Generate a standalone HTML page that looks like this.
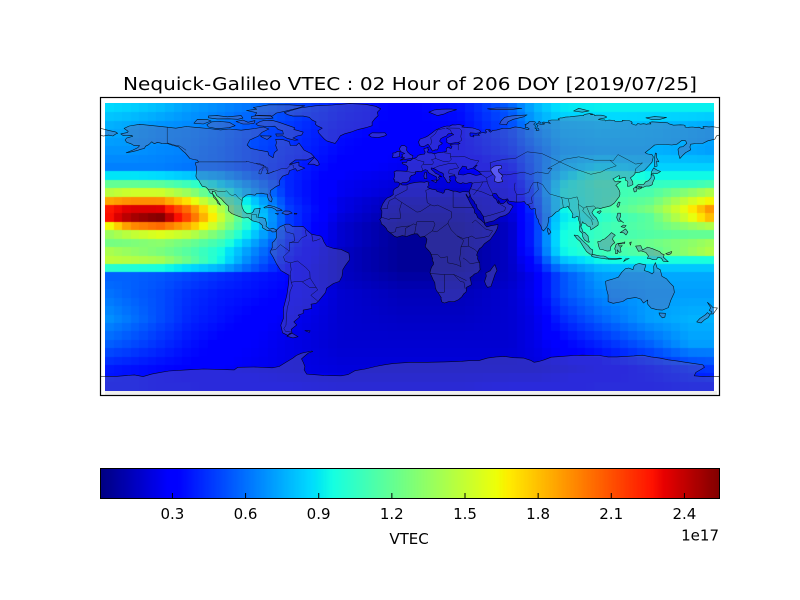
<!DOCTYPE html>
<html><head><meta charset="utf-8">
<style>
html,body{margin:0;padding:0;background:#fff;width:800px;height:600px;overflow:hidden}
#wrap{position:relative;width:800px;height:600px;background:#fff}
canvas{position:absolute}
svg{position:absolute;left:0;top:0}
</style></head><body>
<div id="wrap">
<canvas id="map" width="609" height="288" style="left:105px;top:103px"></canvas>
<canvas id="cb" width="620" height="31" style="left:100px;top:468px"></canvas>
<svg id="s" width="800" height="600" xmlns="http://www.w3.org/2000/svg" font-family="'DejaVu Sans','Liberation Sans',sans-serif">
<defs>
<clipPath id="cd"><rect x="105" y="103" width="609" height="288"/></clipPath>
<clipPath id="cf"><rect x="100" y="97" width="620" height="299"/></clipPath>
</defs>
<rect x="105" y="391" width="612" height="4.5" fill="#efefef"/>
<g id="land" clip-path="url(#cd)" fill="rgb(105,105,165)" fill-opacity="0.4" fill-rule="evenodd"></g>
<g id="coast" clip-path="url(#cf)" fill="none" stroke="#000" stroke-width="0.6" stroke-opacity="0.85" stroke-linejoin="round"></g>
<rect x="100.5" y="97.5" width="619" height="298" fill="none" stroke="#000" stroke-width="1.2"/>
<text x="123" y="90" font-size="18" fill="#000" textLength="574" lengthAdjust="spacingAndGlyphs">Nequick-Galileo VTEC : 02 Hour of 206 DOY [2019/07/25]</text>
<rect x="100.5" y="468.5" width="619" height="30" fill="none" stroke="#000" stroke-width="1"/>
<g id="ticks" stroke="#000" stroke-width="1"></g>
<g font-size="15" fill="#000" text-anchor="middle">
<text x="172.4" y="519">0.3</text>
<text x="245.5" y="519">0.6</text>
<text x="318.6" y="519">0.9</text>
<text x="391.8" y="519">1.2</text>
<text x="465" y="519">1.5</text>
<text x="538.1" y="519">1.8</text>
<text x="611.2" y="519">2.1</text>
<text x="684.4" y="519">2.4</text>
<text x="409" y="544">VTEC</text>
<text x="719" y="540.5" text-anchor="end">1e17</text>
</g>
</svg>
</div>
<script>
(function(){
function seg(p,t){for(var k=0;k<p.length-1;k++){if(t<=p[k+1][0]){var f=(t-p[k][0])/(p[k+1][0]-p[k][0]);return p[k][1]+(p[k+1][1]-p[k][1])*f;}}return p[p.length-1][1];}
var JR=[[0,0],[0.35,0],[0.66,1],[0.89,1],[1,0.5]],JG=[[0,0],[0.125,0],[0.375,1],[0.64,1],[0.91,0],[1,0]],JB=[[0,0.5],[0.11,1],[0.34,1],[0.65,0],[1,0]];
function jet(t){t=Math.max(0,Math.min(1,t));return 'rgb('+Math.round(255*seg(JR,t))+','+Math.round(255*seg(JG,t))+','+Math.round(255*seg(JB,t))+')';}
var XN=[105,130,160,190,220,250,290,340,400,460,510,535,560,600,650,690,714];
var RN=[0,2,5,7,8,9,10,11,12,13,14,15,16,17,18,19,20,22,25,28,31,33];
var T=[
[0.34,0.33,0.31,0.28,0.26,0.24,0.2,0.15,0.12,0.14,0.22,0.3,0.35,0.36,0.36,0.36,0.36],
[0.3,0.29,0.27,0.26,0.24,0.21,0.18,0.14,0.12,0.13,0.2,0.27,0.31,0.32,0.31,0.3,0.29],
[0.27,0.27,0.26,0.25,0.23,0.2,0.17,0.13,0.11,0.12,0.17,0.23,0.29,0.3,0.3,0.29,0.28],
[0.25,0.25,0.25,0.24,0.23,0.2,0.16,0.12,0.1,0.1,0.14,0.22,0.31,0.35,0.33,0.33,0.33],
[0.35,0.35,0.34,0.32,0.29,0.23,0.16,0.11,0.09,0.09,0.12,0.22,0.33,0.41,0.37,0.37,0.37],
[0.47,0.47,0.46,0.42,0.35,0.27,0.16,0.1,0.08,0.08,0.1,0.21,0.36,0.43,0.41,0.42,0.44],
[0.57,0.6,0.6,0.53,0.41,0.3,0.16,0.1,0.07,0.07,0.09,0.2,0.37,0.42,0.44,0.52,0.57],
[0.73,0.76,0.76,0.66,0.5,0.34,0.17,0.09,0.05,0.05,0.08,0.19,0.36,0.42,0.47,0.6,0.66],
[0.88,0.92,0.92,0.78,0.57,0.37,0.18,0.09,0.04,0.04,0.08,0.18,0.36,0.42,0.5,0.65,0.77],
[0.88,0.96,1.0,0.82,0.6,0.38,0.18,0.08,0.03,0.03,0.07,0.17,0.35,0.4,0.46,0.62,0.73],
[0.62,0.76,0.8,0.72,0.56,0.37,0.18,0.07,0.02,0.02,0.06,0.17,0.36,0.42,0.46,0.53,0.57],
[0.53,0.58,0.62,0.58,0.48,0.34,0.17,0.07,0.02,0.02,0.06,0.17,0.37,0.42,0.45,0.47,0.47],
[0.49,0.5,0.52,0.48,0.42,0.3,0.16,0.07,0.02,0.02,0.06,0.17,0.37,0.43,0.48,0.52,0.55],
[0.56,0.53,0.5,0.45,0.38,0.27,0.15,0.06,0.02,0.02,0.06,0.16,0.36,0.42,0.46,0.53,0.57],
[0.58,0.57,0.55,0.47,0.37,0.25,0.14,0.06,0.02,0.02,0.06,0.14,0.31,0.37,0.38,0.38,0.38],
[0.4,0.39,0.38,0.34,0.3,0.22,0.13,0.06,0.02,0.02,0.06,0.12,0.25,0.31,0.32,0.32,0.32],
[0.22,0.22,0.21,0.19,0.17,0.15,0.13,0.06,0.03,0.03,0.06,0.1,0.2,0.28,0.29,0.29,0.29],
[0.24,0.22,0.2,0.17,0.15,0.14,0.12,0.07,0.05,0.05,0.07,0.1,0.2,0.26,0.28,0.28,0.28],
[0.27,0.24,0.2,0.16,0.14,0.12,0.1,0.07,0.06,0.06,0.07,0.09,0.16,0.22,0.28,0.3,0.3],
[0.22,0.2,0.17,0.14,0.12,0.11,0.09,0.07,0.07,0.07,0.07,0.09,0.12,0.16,0.22,0.28,0.28],
[0.15,0.14,0.13,0.12,0.11,0.1,0.09,0.08,0.08,0.08,0.08,0.08,0.09,0.11,0.14,0.17,0.18],
[0.14,0.14,0.13,0.13,0.12,0.12,0.11,0.1,0.1,0.1,0.11,0.11,0.12,0.13,0.13,0.14,0.14]];
function rowI(row,x){var k=0;while(k<XN.length-2&&x>XN[k+1])k++;var f=(x-XN[k])/(XN[k+1]-XN[k]);f=Math.max(0,Math.min(1,f));return row[k]+(row[k+1]-row[k])*f;}
function val(x,r){var k=0;while(k<RN.length-2&&r>RN[k+1])k++;var f=(r-RN[k])/(RN[k+1]-RN[k]);f=Math.max(0,Math.min(1,f));var a=rowI(T[k],x),b=rowI(T[k+1],x);return a+(b-a)*f;}
var c=document.getElementById('map').getContext('2d');
var CW=609/71;
for(var i=0;i<71;i++){var xc=105+CW*(i+0.5);var x0=Math.round(CW*i),x1=Math.round(CW*(i+1));
 for(var r=0;r<34;r++){var y0=(r==0)?0:Math.round(104+8.42*r-103);var y1=(r==33)?288:Math.round(104+8.42*(r+1)-103);
  c.fillStyle=jet(val(xc,r));c.fillRect(x0,y0,x1-x0,y1-y0);}}
var cb=document.getElementById('cb').getContext('2d');
for(var p=0;p<620;p++){cb.fillStyle=jet((p+0.5)/620);cb.fillRect(p,0,1,31);}
var NS='http://www.w3.org/2000/svg';
var tg=document.getElementById('ticks');
for(var k=1;k<=8;k++){var tx=99.3+243.8*0.3*k;var l=document.createElementNS(NS,'line');l.setAttribute('x1',tx);l.setAttribute('x2',tx);l.setAttribute('y1',498.5);l.setAttribute('y2',493);tg.appendChild(l);}
function P(p){return (410+p[0]*1.7222).toFixed(1)+','+(244.4-p[1]*1.684).toFixed(1);}
function pth(a,close){return 'M'+a.map(P).join('L')+(close===false?'':'Z');}
var NA=[[-166,68.9],[-163,70.3],[-157,71.3],[-152,70.8],[-145,70.1],[-141,69.6],[-136,69],[-130,70],[-124,69.5],[-117,68.8],[-110,68],[-105,68.5],[-98,67.8],[-95,68.2],[-90,68.8],[-85,69.7],[-82,68.5],[-86,66.5],[-88,64.3],[-93,62],[-94.6,59],[-92.5,57],[-88,56],[-82.5,55],[-82,53],[-79.5,51.5],[-78.8,54.5],[-77,56],[-78,58.7],[-77.5,60.5],[-78,62.4],[-73.5,62.2],[-70,61],[-69.5,58.8],[-66,58.7],[-64.5,60.3],[-61.5,56],[-57.5,54],[-55.7,52.1],[-57,51.4],[-60,50.2],[-66.5,50.2],[-70,47.5],[-64.5,48.9],[-64.5,46.7],[-61,45.3],[-65.5,43.5],[-66.5,45],[-70,43.8],[-70.5,41.8],[-74,40.5],[-75.5,38.5],[-76,37],[-75.7,35.3],[-77.5,34.5],[-81,32],[-81.3,30],[-80,27],[-80.5,25.2],[-81.8,26],[-82.7,28],[-82.8,29.8],[-84.3,30],[-86,30.4],[-89,30.3],[-90,29.2],[-93,29.7],[-95,29.3],[-97.3,27.5],[-97.7,24],[-97.5,22],[-96.3,19.5],[-94.5,18.2],[-92,18.6],[-91,19.5],[-90.4,21],[-87,21.5],[-87.5,19],[-88.3,16],[-86,15.9],[-84,15.3],[-83.3,12.5],[-83.6,10.8],[-81.5,9],[-79.5,9.6],[-77.5,8.5],[-78.2,7.5],[-80,7.4],[-80.5,8.1],[-82.8,8.2],[-85.7,9.9],[-85.7,11.3],[-87.6,13],[-91.5,14],[-94,16],[-96.5,15.7],[-99.5,16.7],[-103.5,18.3],[-105.5,20],[-105.5,22.8],[-108,25.2],[-109.5,27],[-112.2,29],[-113.2,31.2],[-114.8,31.6],[-114.5,30],[-112.7,27.5],[-111,25],[-110,23.2],[-111.7,24.5],[-112.2,26],[-114.1,28],[-114.5,29.8],[-116,30.5],[-117.2,32.6],[-118.5,34],[-120.6,34.5],[-121.9,36.5],[-122.5,37.8],[-123.7,39],[-124.3,40.5],[-124,43],[-124,46],[-124.7,48.4],[-122.8,48.9],[-123.4,50],[-125.5,50.4],[-127.8,51],[-130.5,54.3],[-132,55.5],[-134.5,58],[-137.5,58.7],[-140.5,59.8],[-144,60],[-146.5,60.6],[-148.5,59.8],[-150,60.9],[-151.7,59.2],[-153.5,58.3],[-154.2,57],[-156.5,56.5],[-158.5,55.7],[-162,54.9],[-164.8,54.4],[-161,56],[-158,57.5],[-157,58.6],[-160,58.6],[-162,59.8],[-164.5,60.6],[-165.4,62],[-164.5,63.2],[-161,64.2],[-161.5,64.7],[-166.5,64.6],[-168,65.6],[-164,66.5],[-163.6,67.1],[-166,68.9]];
var GRL=[[-73,78.2],[-69,79.5],[-64,81],[-55,82.3],[-45,82.8],[-35,83.6],[-26,83.2],[-20,82],[-17,80.5],[-19,78.5],[-18.5,76.5],[-20.5,74.5],[-22,72.5],[-22,70.5],[-25,69.5],[-30,68.3],[-34,66.8],[-38,65.7],[-40.5,64.5],[-42,62],[-43.5,60],[-46,60.7],[-48.5,61.5],[-50,62.8],[-51.5,64.5],[-53,66.2],[-53.5,67.5],[-51,69],[-54,70.5],[-55,71.5],[-54.5,72.7],[-57,74],[-58.5,75.5],[-62,76.2],[-68,76.2],[-71,77],[-73,78.2]];
var ISL=[
[[-80,73.7],[-76,72.5],[-71,70.7],[-67,69.3],[-67.5,68.3],[-62,66.7],[-62.8,65],[-65.5,64.4],[-68,63.2],[-65,62],[-67,61.9],[-71.5,63],[-74,64.5],[-77.5,64.3],[-78,65.6],[-73.5,65.5],[-74,67.5],[-76.5,68.2],[-78.5,70.2],[-83,70],[-88,70.5],[-89.5,71.5],[-87,73],[-85,73.5],[-80,73.7]],
[[-118,71],[-115,72.8],[-110,73],[-105,72.5],[-101.5,70.5],[-105,69.3],[-112,68.7],[-117,69.7],[-118,71]],
[[-125.5,72],[-123.5,74.2],[-117.5,74.1],[-115.5,73.3],[-120,71.5],[-125.5,72]],
[[-90,76.5],[-80,76.2],[-77.5,78],[-73,79],[-65,81],[-61,82.3],[-70,82.9],[-82,82.9],[-91,81.3],[-89,80.3],[-95,79.5],[-89,78.2],[-90,76.5]],
[[-92,76],[-88,76.6],[-81,76.5],[-79.5,75],[-85,74.5],[-92,74.7],[-92,76]],
[[-117,76.3],[-112,76.5],[-106,75.8],[-98,76.5],[-97,75],[-100,74.3],[-105,74.6],[-112,74.5],[-117,75.2],[-117,76.3]],
[[-101,73],[-97,73.8],[-94,72.5],[-90,73.5],[-90.5,72],[-93.5,71.5],[-97,71.5],[-101,73]],
[[-87,64.5],[-80.5,64.3],[-83,62.3],[-86,63.7],[-87,64.5]],
[[-59.3,47.6],[-55.5,51.6],[-53.5,49.5],[-52.6,47.5],[-53.8,46.7],[-56,47.6],[-59.3,47.6]],
[[-84.9,21.9],[-82,23.2],[-79,22.5],[-75.5,21],[-74.2,20.2],[-77.5,19.9],[-78,20.7],[-80.5,22],[-84.4,21.6],[-84.9,21.9]],
[[-74.4,18.5],[-72.7,19.9],[-70,19.7],[-68.4,18.6],[-70,18.2],[-71.5,17.6],[-74.4,18.5]],
[[-67.2,18.5],[-65.6,18.4],[-65.8,18],[-67.2,18]],
[[-78.3,18.4],[-76.3,18.2],[-76.9,17.9],[-78.3,18.4]],
[[-180,69],[-175,67.7],[-171,66.8],[-169.8,66],[-171,65.5],[-172.5,64.4],[-175,64.9],[-178,64.3],[-180,64.9]],
[[-5.7,50],[1.4,51.2],[1.7,52.7],[0,53.5],[-1.5,55],[-2,56],[-1.8,57.6],[-3,58.6],[-5,58.6],[-6.2,56.8],[-5.5,55.3],[-4.8,54.8],[-3,54],[-4.8,53.3],[-4.2,52.3],[-5.3,51.7],[-3,51.4],[-5.7,50]],
[[-6,52.2],[-6,53.8],[-5.8,55.2],[-7.3,55.3],[-8.5,54.4],[-10,54.2],[-9.8,53],[-10.3,51.8],[-8.5,51.6],[-6,52.2]],
[[-22.5,63.8],[-24,64.9],[-22,66.3],[-18,66.2],[-14.5,66.3],[-13.6,65],[-15,64.3],[-18.5,63.4],[-22.5,63.8]],
[[11,78.5],[14,79.8],[18,80.3],[24,80.4],[27,80],[22,78.5],[20,77.5],[16,76.5],[11,78.5]],
[[52,71.5],[53,73.5],[55,75.5],[59,76.3],[68,76.9],[66,75.8],[60,74.3],[57,72.9],[56,71],[52,71.5]],
[[95,79.2],[98,80.8],[104,79.3],[100,78.5],[95,79.2]],
[[137,75.2],[142,75.9],[149,75.4],[145,74.2],[140,74.2],[137,75.2]],
[[45,80.5],[50,81],[60,81],[65,80.8],[58,80],[48,80],[45,80.5]],
[[12.4,38],[15.6,38.3],[15.1,36.7],[12.4,38]],
[[8.4,39],[9.8,39.2],[9.6,41.2],[9.4,43],[8.6,42.6],[8.1,40.6],[8.4,39]],
[[130.9,34],[132.5,35.5],[135.7,35.6],[136.8,37.2],[138.5,37.8],[140,39.8],[140,41.3],[141.5,41.3],[142,39.2],[141,37],[140.8,35.7],[139.8,34.9],[138.8,34.6],[137,34.6],[135.2,33.8],[133,34.3],[131.3,33.9],[130.9,34]],
[[129.7,33.2],[131,34],[132,33.2],[131.3,31.3],[130.2,31.2],[129.7,33.2]],
[[132.5,33.5],[134.7,34.2],[134.3,33.3],[132.9,32.8],[132.5,33.5]],
[[140,41.5],[140.3,43.3],[141.5,45.4],[143.3,44.2],[145.5,43.3],[143.3,42],[141.2,42.3],[140,41.5]],
[[142,46],[143.5,46.5],[143.2,49.5],[144.5,49],[143.2,51.5],[143.2,54],[142.5,54.3],[142,51.5],[142,48.5],[142,46]],
[[120.1,23],[121,25.1],[122,25],[121.5,23],[120.8,21.9],[120.1,23]],
[[108.6,19.2],[110.5,20.1],[111,19.6],[110,18.3],[108.6,19.2]],
[[79.8,8],[80,9.8],[81.2,8.5],[81.8,7.2],[80.6,5.9],[79.8,8]],
[[120,16],[120.6,18.5],[122.2,18.5],[122.3,16.5],[121.5,15],[124,12.8],[122.8,13.8],[121,13.8],[120.6,14.4],[120,16]],
[[122,7],[123.5,8],[125.2,9.2],[126.5,7.3],[125.4,5.6],[124,6.9],[122,7]],
[[122.5,10.5],[124,11.5],[125.5,11.2],[124.5,10],[122.5,10.5]],
[[109,1.6],[110.5,1.8],[111.8,2.8],[113,3.2],[115.5,5.4],[117,7],[119.2,5.4],[118,4.3],[117.6,3],[118.9,1],[117.6,0],[116.5,-1.5],[116.2,-3.8],[114.5,-4],[111.7,-3],[110.2,-2.9],[109.5,-1],[109,1.6]],
[[95.3,5.5],[97.5,5.2],[100.3,2.2],[103.5,-0.8],[104.7,-2.5],[106,-3.2],[105.8,-5.8],[104.5,-5.8],[102.5,-4.2],[100.7,-1.5],[98.8,1.7],[97,3.3],[95.3,5.5]],
[[105.2,-6.8],[106,-5.9],[108.5,-6.5],[110.5,-6.9],[112.6,-6.9],[114.5,-7.7],[114.5,-8.7],[110,-8.1],[106.5,-7.4],[105.2,-6.8]],
[[115,-8.2],[119,-8.3],[122,-8.2],[123,-8.5],[119,-8.9],[115,-8.8],[115,-8.2]],
[[119.4,-5.5],[119.5,-3.5],[118.8,-2.8],[119.7,0],[120.5,0.5],[123,0.9],[124.8,1.5],[124.5,0.4],[121,0.3],[121.5,-1],[123.3,-0.8],[122,-2],[122.6,-4.5],[121.4,-4.7],[120.4,-3.2],[120.4,-5.5],[119.4,-5.5]],
[[131,-1],[134,-0.8],[135,-3.3],[138,-1.6],[141,-2.6],[145,-4.3],[146,-5.5],[147.6,-6.1],[147,-7.5],[148.2,-8.6],[150,-10.3],[147,-10],[146,-8.2],[144,-7.6],[143,-9],[141,-9.1],[139,-8.2],[137.8,-8.4],[138.5,-6.9],[137,-4.8],[134.2,-3.8],[132.7,-4.1],[132,-2.8],[131,-1]],
[[148.5,-5.5],[151,-4.5],[152,-4.2],[151.5,-5.5],[150,-6.2],[148.5,-5.5]],
[[124,-10.2],[125.1,-8.6],[127.3,-8.4],[125,-9.5],[124,-10.2]],
[[127.5,1],[128.5,1.5],[128,-0.5],[127.5,1]],
[[49.3,-12],[50.5,-15.5],[49.5,-17.5],[48,-22],[47,-25],[45,-25.5],[44,-24],[43.3,-22],[44.3,-18.8],[44,-17],[46.5,-15.7],[48,-13.5],[49.3,-12]],
[[144.6,-40.7],[148.3,-40.9],[148,-43.2],[146.5,-43.6],[145,-42],[144.6,-40.7]],
[[172.7,-34.4],[174.5,-36],[176,-37.6],[178.5,-37.7],[177.5,-39.2],[176,-41.3],[174.6,-41.3],[175.2,-40],[173.8,-39.2],[174.6,-37.5],[172.7,-34.4]],
[[172.7,-40.5],[174.3,-41.7],[173,-43.6],[171,-44.8],[169,-46.6],[166.5,-46],[168.3,-44],[171.5,-41.8],[172.7,-40.5]],
[[-68.5,-52.7],[-65,-54.8],[-68,-55.5],[-71.5,-54.5],[-68.5,-52.7]],
[[-61,-51.2],[-58,-51.3],[-58.5,-52.2],[-61,-51.2]]
];
var SA=[[-77.5,8.5],[-75.5,10.5],[-72,12],[-70,12],[-68,10.5],[-62,10.7],[-60,8.5],[-57,6],[-52,5],[-51,4],[-50,1.5],[-48.5,-1],[-44,-2.5],[-40,-3],[-35.5,-5.2],[-35,-9],[-37.5,-12.5],[-39,-15],[-39.5,-19],[-41,-22],[-44.5,-23.2],[-48.5,-26],[-49,-28.5],[-53,-33.5],[-54.5,-35],[-57.5,-35.5],[-57,-38],[-62,-39],[-62,-41],[-65,-42],[-64,-43],[-67.5,-46],[-65.8,-47.8],[-69,-50.5],[-68.5,-52.5],[-70,-53],[-71,-54],[-74,-52.5],[-75,-48],[-73.5,-44],[-73.5,-38],[-71.5,-30],[-70.5,-23],[-70.2,-18.3],[-75,-15.5],[-77.5,-11.5],[-79.5,-7.5],[-81.3,-4.5],[-80,-2],[-80,1],[-78.8,2],[-77.5,4],[-77.5,7],[-77.5,8.5]];
var AF=[[32.3,31.3],[34.2,31.2],[34.9,29.5],[34.2,27.8],[33.5,28.4],[32.6,29.9],[32.5,29.4],[33.8,27],[35,24.5],[36.5,22],[37.2,21],[37.5,18.7],[38.5,18],[39.3,15.9],[41.2,14.5],[43.1,12.7],[43.3,11.9],[44.6,10.4],[47,11.1],[49.7,11.6],[51.1,11.8],[51,10.6],[50.6,9.2],[49.5,7],[48,5],[46.6,2.9],[43.1,0.3],[41.6,-1.7],[40.3,-2.6],[39.2,-4.7],[38.7,-6.5],[39.4,-7.1],[39.2,-8.5],[39.9,-10.1],[40.5,-10.8],[40.6,-14.2],[40.8,-14.7],[39.5,-16.7],[37.4,-17.6],[36.3,-18.7],[34.8,-19.8],[35.2,-21.3],[35.4,-22.1],[35.6,-23.7],[35.4,-24.1],[33,-25.4],[32.6,-26],[32.8,-26.7],[32.5,-28.3],[31.2,-29.4],[30.1,-31.1],[28.2,-32.8],[26.4,-33.6],[25.8,-34],[22.6,-33.9],[21.5,-34.3],[20.1,-34.8],[18.9,-34.4],[18.2,-33.9],[18.4,-33],[17.9,-32.6],[18.2,-31.7],[17.6,-30.7],[16.3,-28.6],[15.6,-27.8],[15.2,-27.1],[14.7,-25.4],[14.4,-22.7],[13.4,-20.9],[12.6,-19],[11.8,-17.3],[11.6,-16.7],[12.2,-14.4],[12.7,-13.1],[13.6,-12],[13.7,-10.7],[13.1,-9.8],[12.9,-9],[13.2,-8.6],[12.3,-6.1],[12.2,-5.8],[11.9,-5],[11.1,-3.9],[9.4,-2.1],[8.8,-1.1],[9.3,0.3],[9.5,1],[9.8,3.1],[9.4,3.7],[8.5,4.8],[7.1,4.5],[5.9,4.3],[4.3,6.3],[2.7,6.3],[1,5.9],[-2,4.7],[-4.6,5.2],[-7.5,4.3],[-9,4.8],[-11.4,6.8],[-13.2,8.2],[-13.7,9.5],[-15,10.9],[-16.6,12.2],[-16.8,13.2],[-17.2,14.4],[-17.6,14.7],[-16.5,16.1],[-16.3,19.1],[-16.4,20.1],[-17,21],[-16.3,22.7],[-16,23.7],[-14.4,26.3],[-13.1,27.6],[-11.4,28.3],[-9.7,29.6],[-9.8,31.2],[-9.3,32.6],[-8.4,33.3],[-6.9,34.1],[-6.2,35.1],[-5.9,35.8],[-5.2,35.8],[-4.6,35.3],[-2.2,35.2],[-1.2,35.7],[0.5,36.3],[3.2,36.8],[6.3,37.1],[8.4,36.9],[9.5,37.3],[10.2,37.2],[11.1,36.9],[10.6,35.9],[11.1,35.1],[10.2,34.3],[10.3,33.8],[11.1,33.3],[12.7,32.8],[15.2,32.3],[15.7,31.4],[18,30.8],[19.1,30.3],[20,31],[20.1,32.2],[21.5,32.8],[23.2,32.2],[25,31.6],[26.5,31.6],[29,30.9],[30.9,31.4],[32.3,31.3]];
var AU=[[113.5,-22],[114,-26],[115,-30],[115,-34],[118,-35],[123.5,-33.9],[126,-32.3],[131,-31.5],[134,-32.5],[135.5,-34.8],[138,-33],[138,-35.5],[140,-37.8],[143.5,-38.8],[146.5,-39],[150,-37.5],[151.5,-33],[153.5,-28.5],[153,-25],[151,-23],[149,-20.5],[146.3,-19],[145.3,-15],[143.5,-14],[142.5,-10.8],[141.5,-13],[141.6,-16.5],[140.5,-17.5],[139,-16.5],[136,-15.5],[137,-12.2],[136,-12],[133,-11.3],[131,-12],[130,-13],[129.5,-15],[127,-14],[125,-14.5],[123,-16.5],[121,-19.5],[118,-20.5],[114.5,-21.5],[113.5,-22]];
var AN=[[-180,-100],[-180,-78.3],[-170,-78.3],[-160,-77.5],[-155,-78.5],[-150,-77],[-145,-76],[-140,-75.2],[-130,-74.5],[-120,-74],[-110,-74.2],[-102,-74.5],[-100,-73],[-90,-72.8],[-80,-73.3],[-76,-72.5],[-72,-70],[-68,-67.5],[-66,-66],[-63,-64.6],[-57,-63.3],[-56.5,-63.6],[-59,-64.5],[-61,-66.2],[-63,-68],[-62,-70],[-61,-72.5],[-61.5,-74.5],[-60,-77],[-50,-77.8],[-40,-78],[-36,-77.3],[-32,-75],[-26,-74],[-20,-72.5],[-15,-71.5],[-10,-70.8],[0,-70],[10,-70],[20,-69.8],[30,-69.4],[35,-69],[40,-69],[45,-67.5],[50,-66.8],[55,-66.5],[60,-67.3],[66,-67.5],[70,-68.8],[72,-70],[75,-69.5],[78,-68.5],[82,-67],[88,-66.5],[95,-66],[100,-65.8],[110,-66],[115,-66.8],[120,-66.8],[130,-66.2],[135,-65.8],[140,-66.8],[145,-67.5],[150,-68.5],[155,-69.2],[160,-70],[165,-70.8],[170,-71.5],[171,-73],[169,-74.2],[166,-76],[165,-78],[170,-78.5],[180,-78.3],[180,-100]];
var EUR=[[36.1,36.6],[34.7,36.8],[32.5,36.1],[30.6,36.7],[29.7,36.1],[27.6,36.7],[26.3,38.2],[26.8,39.6],[26.2,40.3],[26,40.8],[24,40.7],[22.8,40.4],[23.3,39.2],[22.9,38.2],[23.6,38],[22.8,36.5],[21.7,36.8],[21.1,37.8],[20.2,39.4],[19.4,40.3],[19.5,41.8],[18.5,42.5],[17,43.1],[15.2,44.3],[13.6,45.2],[12.3,45.4],[12.3,44.6],[13.6,43.5],[14.8,42.2],[16.1,41.7],[17.5,40.8],[18.5,40.1],[17.1,40.5],[16.5,39.7],[17.1,39],[16.6,38.4],[15.7,37.9],[15.7,38.9],[15.4,40.1],[14,40.8],[12.6,41.5],[11.1,42.4],[10.5,43],[10.2,43.9],[8.9,44.4],[7.5,43.8],[6.5,43.1],[4.6,43.4],[3.1,43.1],[3.2,41.9],[2,41.2],[0.8,41],[0,39.9],[-0.3,39.3],[0.1,38.7],[-0.7,37.6],[-2.1,36.7],[-4.4,36.7],[-5.4,36],[-6.2,36.4],[-6.5,36.9],[-7.5,37.1],[-8.9,37],[-8.8,38.3],[-9.5,38.7],[-9,40.2],[-8.8,41.8],[-9.3,43],[-8,43.7],[-5.4,43.6],[-1.9,43.4],[-1.4,44.5],[-1.2,46],[-2.2,47.1],[-4.5,47.9],[-4.6,48.7],[-1.9,48.7],[-1.6,49.7],[0.1,49.7],[1.6,50.9],[2.5,51.1],[3.8,51.6],[4.7,52.9],[6.9,53.5],[8.5,53.6],[8.8,54.9],[8.3,55.6],[8.1,56.8],[9.4,57.2],[10.6,57.7],[10.3,56.6],[10.9,56.4],[10.2,55.3],[9.9,54.9],[10.9,54.3],[12.5,54.4],[14.1,53.8],[16.4,54.5],[18.6,54.7],[19.9,54.9],[21.2,55.2],[21,56.8],[21.6,57.4],[22.5,57.8],[23.3,57],[24.1,57.1],[24.4,58.4],[23.4,58.6],[23.3,59.2],[26,59.6],[28,59.5],[29.1,60],[28,60.5],[26.3,60.4],[22.9,59.8],[21.3,60.7],[21.5,61.7],[21.1,62.6],[21.5,63.2],[23,64],[24.5,64.9],[25.4,65.1],[24.6,65.8],[22.2,65.7],[21.2,64.4],[19.3,63.6],[17.8,62.7],[17.2,61.3],[17.8,60.6],[18.8,60.1],[18,59.3],[16.8,58.7],[16.4,57],[15.9,56.1],[14.7,56.2],[13,55.4],[12.6,56.3],[11.8,57.4],[11,58.9],[10.4,59.5],[8.4,58.3],[7,58.1],[5.7,58.6],[5.3,59.7],[5,61],[5.9,62.6],[8.6,63.5],[10.5,64.5],[12.4,65.9],[14.8,67.8],[16.4,68.6],[19.2,69.8],[21.4,70.3],[23,70.2],[24.5,71],[26.4,70.9],[28.2,71.2],[31.3,70.5],[30,69.7],[33.8,69.3],[36.5,69.1],[40.3,67.9],[41.1,66.8],[40,66.3],[38.4,66],[35,66.3],[34.8,65.9],[34.9,64.4],[37,63.8],[37.1,64.3],[36.5,64.8],[38,64.9],[40.4,64.8],[39.6,65.5],[42.1,66.5],[44,66.1],[44.5,66.8],[43.7,67.4],[44.2,68.3],[46.3,68.3],[46.8,67.7],[45.6,67.6],[46.8,66.6],[48,67.7],[50.2,67.9],[53.7,68.9],[54.5,68.8],[58,68.9],[60,69.5],[61,69.8],[63.5,69.5],[64.9,69.2],[68.5,68.1],[69.2,68.6],[68.1,69.5],[66.9,69.5],[67.3,70.8],[66.7,71],[68.5,71.9],[69.2,72.8],[71,73],[72.6,72.8],[72.8,72.2],[71.8,71.4],[72.8,70.4],[72.6,69],[73.7,68.4],[73.2,67.7],[74.9,67.8],[74.7,68.8],[73.8,69.1],[73.6,69.6],[74.4,70.6],[73.1,71.4],[74.9,72.1],[74.7,72.8],[75.2,72.9],[75.7,72.3],[75.3,71.3],[77,71.2],[78.3,71.6],[76.4,72.1],[77.4,72.6],[79.7,72.3],[81.5,71.8],[80.6,72.6],[80.5,73.6],[82.3,73.9],[86.8,73.9],[86,74.5],[87.2,75.1],[88.3,75.1],[90.3,75.6],[92.9,75.8],[96,76.1],[98.9,76.4],[100.8,76.4],[101,76.9],[102,77.3],[104.4,77.7],[106.1,77.4],[104.7,77.1],[107,77],[107.2,76.5],[108.2,76.7],[111.1,76.7],[113.3,76.2],[114.1,75.8],[113.9,75.3],[112.8,75],[110.2,74.5],[109.4,74.2],[110.6,74],[112.1,73.8],[113,74],[113.5,73.3],[114,73.6],[115.6,73.8],[118.8,73.6],[119,73.1],[123.2,73],[123.3,73.7],[125.4,73.6],[127,73.6],[128.6,73],[129,72.4],[128.5,72],[129.7,71.2],[131.3,70.8],[132.3,71.8],[133.9,71.4],[135.6,71.7],[137.5,71.3],[138.2,71.6],[139.9,71.5],[139.1,72.4],[140.5,72.8],[149.5,72.2],[150.4,71.6],[153,70.8],[157,71],[159,70.9],[159.8,70.5],[159.7,69.7],[160.9,69.4],[162.3,69.6],[164.1,69.7],[165.9,69.5],[167.8,69.6],[169.6,68.7],[170.8,69],[170,69.7],[170.5,70.1],[173.6,69.8],[175.7,69.9],[178.6,69.4],[180,69],[185,68],[190,66.2],[187,65],[184,64.8],[180,65],[178,64.5],[177,62.5],[173,61.5],[170,60],[166,59.9],[163,59.5],[162.5,57.8],[163,56.2],[160,54.5],[158.5,53],[156.7,51],[156,53.5],[155.6,56.5],[156.8,57.8],[158.5,58],[160.7,60],[160,61.5],[158,61.8],[155,59.5],[152,59],[148.5,59.3],[145,59.3],[142,59],[139,56.5],[136.5,54.5],[138,53.7],[140.5,53.3],[141.3,52],[140.5,48.8],[138.5,46.5],[136,43.8],[133,42.8],[131,42.6],[129.8,41],[128,39.5],[129.3,37.2],[129.4,35.5],[127.5,34.6],[126.3,34.5],[126.5,36.8],[126,37.7],[125,38.2],[125.3,39.5],[124.3,39.9],[122.2,39.2],[121.2,38.9],[121.8,39.8],[121.4,40.9],[119,39.5],[117.8,38.9],[118.8,37.6],[119.5,37.1],[120.6,37.6],[122.5,37.3],[120.9,36.3],[119.5,35],[120.3,34.3],[121.5,32.2],[121.9,30.9],[121.9,29.6],[121.5,28.3],[120,26.4],[118.7,24.6],[116.5,22.9],[114.3,22.3],[112,21.8],[110.4,21.2],[109.8,21.5],[108.5,21.7],[106.7,20.7],[105.6,18.9],[106.6,17.3],[108.3,15.6],[109.3,13.3],[109.2,11.5],[108,10.6],[106.5,9.6],[105,8.6],[104.8,10.3],[103,11],[102,12.2],[100.8,12.6],[100.2,13.5],[99.2,10.3],[99.9,9.2],[100.3,7.5],[101.7,6.9],[103.4,4.9],[103.6,2.3],[104.3,1.4],[103.4,1.3],[101.3,2.6],[100.3,4.6],[100.2,6.4],[98.6,8],[98.3,10],[98.7,11.6],[98.4,13.1],[97.8,14.8],[97.6,16.6],[96.5,16.5],[95.4,15.7],[94.2,16],[94.6,17.8],[93.8,19.5],[92.3,21.5],[91.7,22.7],[90.5,22],[89,21.9],[86.9,20.8],[86.4,19.9],[84.8,19.2],[82.2,16.6],[80.3,15.9],[80.3,13.4],[79.9,11.2],[79.3,10.3],[78.3,8.9],[77.5,8],[76.6,8.9],[76,10.9],[74.9,12.6],[74.5,14.6],[73.5,16],[72.8,19.2],[72.9,20.8],[72.6,21.4],[70.5,20.9],[69.2,22.1],[69.6,22.5],[68.2,23.7],[67.4,24],[66.4,25.4],[64.5,25.2],[61.5,25.1],[57.4,25.7],[56.6,27.1],[54.7,26.5],[53.5,26.8],[51.5,27.9],[50.1,30.1],[49,30.3],[48,30],[48,29],[48.8,27.7],[50.2,26.6],[50.8,24.8],[51.6,24.2],[51.6,25.2],[51.4,26.1],[52.5,24.2],[54,24.1],[55.5,25.4],[56.3,26.4],[56.4,24.9],[57.4,23.9],[58.7,23.6],[59.8,22.5],[58.5,20.4],[57.7,19],[56.3,17.9],[55.3,17.2],[52.4,16.4],[48.7,14],[45.6,13.3],[43.5,12.6],[42.8,15.3],[42.8,16.4],[41.8,17.8],[40.9,19.5],[39.1,21.3],[38.5,23.7],[37.5,24.3],[37.5,25.1],[35.6,27.4],[34.9,29.5],[34.3,31.2],[35,33],[35.8,34.7],[36,35.8],[36.1,36.6]];
var BLK=[[28,41.5],[28.5,43.5],[29.6,45],[30.5,46.5],[33,46],[32.5,45.3],[33.5,44.5],[35.5,45],[36.5,45.3],[38,46.8],[39,47],[38,46],[37.6,44.8],[39.7,43.5],[41.6,41.6],[38.3,40.9],[35.2,42],[33.5,42],[31,41.2],[28,41.5]];
var CAS=[[47,45],[49,46.5],[51.5,47],[53,46.7],[53.2,45.3],[51.3,44.5],[51.5,43],[52.8,41.8],[54,40.5],[53,39.5],[53.9,37.3],[51,36.7],[49,37.6],[49.5,40.2],[48,42],[47,43.5],[47,45]];
var BRD=[
[[-123,49],[-95,49],[-95,49.4],[-89.5,48],[-84.5,46.5],[-82.5,45.3],[-82.5,42],[-79,43.3],[-76.5,44.2],[-74.7,45],[-71.5,45],[-69.2,47.4],[-67.8,47.1],[-67.8,45.6],[-67,44.8]],
[[-141,69.6],[-141,60.3],[-137,59],[-133.5,58.4],[-130,55.9]],
[[-117.1,32.5],[-114.7,32.7],[-111,31.3],[-108.2,31.3],[-106.5,31.8],[-104.5,29.6],[-103,29],[-101.4,29.8],[-99.5,27.5],[-97.2,25.9]],
[[-92,14.5],[-92,17.8],[-91,17.8],[-89.2,17.8],[-89.2,15.9]],
[[-89.5,48],[-88,48.2],[-84.8,46.9],[-86,45],[-87.5,44],[-87.8,42],[-86.5,41.8],[-86,43.5],[-85,45.8],[-84,46],[-82.5,43],[-83.5,42],[-81,42.5],[-79,43.5]],
[[-8.7,27.7],[-4.8,25],[1.2,21],[4,19.2],[5.8,19.4],[12,23.5],[14,22.8],[15.9,23.4],[24,19.5],[24,15.7],[22.5,14],[22,12.5],[23.9,8.6],[27.3,5.1],[30.8,3.5],[34,4.2],[35.9,5],[38,3.6],[41.8,3.9]],
[[25,31.6],[25,22],[37,22]],
[[11.5,33.1],[9.1,32],[9.5,30],[10,24.8],[12,23.5]],
[[-1.7,35],[-1.7,32.5],[-8.7,28.7],[-8.7,27.7]],
[[-17,21],[-13,21.3],[-13,23],[-12,26],[-8.7,27.7]],
[[-16.5,16.1],[-12,14.7],[-11.6,15.4],[-5.5,15.5],[-5.5,16.4],[-6,21],[-4.8,25]],
[[12.2,-5.8],[16,-6],[18,-8],[21.8,-7.3],[22,-11],[24,-11.3],[27,-12],[29.6,-13.2],[28.8,-8.5],[29.4,-4.5],[29.6,-1.4],[30.8,1.2],[31,2.5],[27.3,5.1]],
[[11.8,-17.3],[20,-17.9],[25.3,-17.8],[32.8,-21.5]],
[[20,-17.9],[20,-24.7],[20,-28.4],[16.5,-28.6]],
[[25.3,-17.8],[29.4,-22.1],[31.3,-22.4],[32,-26.3]],
[[36,12.7],[38,14.5],[41.8,11],[44,9],[48,8],[46,5],[41.8,3.9]],
[[2.7,6.3],[3.6,11.7],[4,13.5],[13.6,13.7],[14.5,12],[13,8],[8.5,4.8]],
[[-11.4,6.8],[-8.5,7.5],[-8,10],[-5.5,10.4],[-3,10.7],[0,11],[1.9,12.2],[3.6,11.7]],
[[-2.9,5],[-2.7,9.5],[-0.1,11]],
[[29.6,-1.4],[33.9,-1],[37.7,-3.1],[39.2,-4.7]],
[[33.9,-1],[34,4.2]],
[[30.8,-8],[33,-9.5],[35,-11.5],[40.5,-10.5]],
[[22,12.5],[15.5,7.5],[13,8]],
[[-60,5.2],[-63,3.8],[-65,1],[-70,1.2],[-70,-4],[-73.5,-7.3],[-72.5,-10],[-69.5,-11],[-65.4,-9.8],[-60.5,-13.7],[-58.2,-16.3],[-58,-20],[-54.5,-25.5],[-53.6,-27],[-57.6,-30.2],[-53.5,-33.7]],
[[-69,-22.5],[-66,-22],[-62.6,-22.2],[-58,-20]],
[[-69.6,-17.5],[-69,-22.5],[-68.3,-24.5],[-69.7,-28],[-70,-33],[-71.3,-38],[-71.8,-44],[-72,-48],[-73.3,-50],[-72.2,-51.7],[-69,-52]],
[[-80.3,-3.4],[-78,-3],[-75.2,-0.1],[-70,-4]],
[[-69.5,1],[-67,2],[-67.5,6.2],[-72,7.5],[-72.9,11]],
[[-60.7,8.6],[-60.3,5.2],[-60,5.2]],
[[-57,6],[-56.5,1.9],[-54.6,2.3],[-52,3.4]],
[[-62.6,-22.2],[-58.4,-25.5],[-54.5,-25.5]],
[[-69.6,-17.5],[-69,-15],[-69.5,-11]],
[[-1.8,43.3],[3.2,42.4]],
[[2.5,51.1],[4.5,50],[6.3,49.5],[8.2,49],[7.6,47.6],[6.5,46.4],[7,45.3],[7.5,43.8]],
[[14.2,53.9],[14.7,52],[15,51],[12.4,50.3],[13.8,48.8],[13,47.5],[9.6,47.5],[7.6,47.6]],
[[19.9,54.4],[23.5,54],[23.5,52],[24,50.5],[22.5,49],[19,49.4],[15,51]],
[[23.5,52],[28,52],[31.8,52.1],[35.5,50.4],[40,49.6],[38.2,47.1]],
[[28,56],[28,59.5]],
[[28,60.5],[30,61.8],[29.5,64],[30,67.5],[28.5,69]],
[[12,59],[12.5,61],[12,63.5],[14.5,65.5],[16,68],[20.5,69]],
[[24.2,65.8],[23.6,67.9],[21,69.1],[28.5,69]],
[[13.6,45.2],[16.5,46.5],[22.5,48],[26.6,48.3],[28.2,45.5],[22.7,44.2],[22.4,42.3],[26,41.5],[26.1,40.8]],
[[87,49],[90,50.6],[98,52],[107,50],[116,50],[117.9,49.5],[120.8,53.3],[127,50],[131,47.7],[135,48.4],[131,44.9],[130.6,42.4]],
[[50,49.5],[46.5,48.5],[47,45]],
[[50,49.5],[55,50.6],[61,51],[68,55],[76.5,54],[87,49],[80,45],[82.4,45.2],[80.2,42],[74,43],[70,41.5],[66,42.9],[56,41.3],[52.8,41.8]],
[[87,49],[96,44.8],[105,41.6],[111,43],[114,44.6],[119.8,46.7],[116,50]],
[[74,37],[77,35.5],[79,32.5],[81,30],[88,27.9],[92,27],[97,28.2],[98,25],[97.7,23.8],[101,21.5],[102.5,22.5],[106.7,22.8],[108,21.6]],
[[74,37],[74.5,32.5],[70.5,28],[71,24.5],[68.2,23.7]],
[[74,37],[71.5,36.5],[70,34],[69,31],[66.5,29.9],[62,29.4],[61.7,25.2]],
[[61,36.6],[60.5,33.6],[61,31.5],[62,29.4]],
[[44.5,39.5],[44.8,37.2],[45.5,35],[46.5,33],[48,30]],
[[36,35.8],[37,36.6],[42.3,37.1],[44.8,37.2]],
[[36.9,29.4],[39,32],[42,31.1],[46.5,29.1],[48,29]],
[[42.8,16.4],[46.5,17.3],[52,19],[55,20],[55.5,22],[51.6,24.2]],
[[42.3,37.1],[41,34.4],[39,32],[35.5,33]],
[[97.7,23.8],[98.6,16.5],[99,10.5]],
[[101,21.5],[100.3,20],[102,18],[105.5,14.5],[106,11.5]],
[[102.5,22.5],[104.5,17.5],[106.5,14.5]],
[[88,27.9],[88.5,26],[89,22]],
[[92,27],[92.5,24],[92.3,21.5]],
[[41.6,41.5],[44.5,39.5],[48,41.5],[47,43.5]],
[[36.5,45.3],[40,43.4],[47,43.5]]
];
var land=document.getElementById('land'),coast=document.getElementById('coast');
function add(g,d,attrs){var e=document.createElementNS(NS,'path');e.setAttribute('d',d);if(attrs){for(var a in attrs)e.setAttribute(a,attrs[a]);}g.appendChild(e);}
var all=[NA,GRL,SA,AF,AU,AN].concat(ISL);
all.forEach(function(a){var d=pth(a);add(land,d);add(coast,d);});
var ed=pth(EUR)+pth(BLK)+pth(CAS);
add(land,ed);add(coast,ed);
add(land,pth(CAS),{fill:'rgb(175,175,235)','fill-opacity':'0.5'});
BRD.forEach(function(a){add(coast,pth(a,false),{'stroke-width':'0.5','stroke-opacity':'0.75'});});
})();
</script>
</body></html>
